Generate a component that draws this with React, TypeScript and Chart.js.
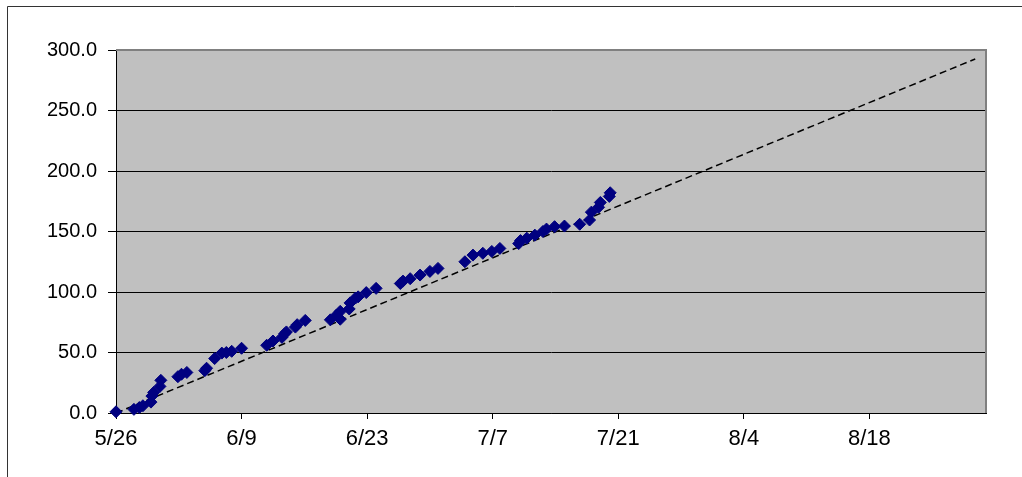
import React, { useEffect, useRef } from "react";
import { Chart, registerables } from "chart.js";

Chart.register(...registerables);

// Days since 5/26 for each observation
const obsDays: number[] = [
  0, 2.0, 2.6, 3.0, 3.9, 4.0, 4.2, 4.9, 5.0, 6.9, 7.3, 7.9, 9.9, 10.1, 11.0, 11.8,
  12.3, 12.9, 14.0, 16.8, 17.5, 18.5, 18.8, 19.0, 20.0, 20.2, 21.1, 23.9, 24.6,
  25.0, 25.0, 26.0, 26.1, 26.7, 27.0, 27.9, 29.0, 31.7, 32.0, 32.8, 33.9, 35.0,
  35.9, 38.9, 39.8, 40.9, 41.9, 42.8, 44.9, 45.1, 45.8, 46.7, 47.6, 48.0, 48.9,
  50.0, 51.7, 52.8, 53.0, 53.8, 54.0, 55.0, 55.1,
];
// Cumulative values
const obsValues: number[] = [
  1, 3, 4.5, 6, 9, 14, 17, 22, 27, 30, 32, 33.5, 35, 37, 45, 49.5,
  50, 51, 53.5, 56, 59.5, 62.5, 65.5, 67, 71, 73, 76.5, 77, 81,
  77.5, 84, 86, 91, 95, 96, 99.5, 103, 107, 109, 111, 114, 117,
  119.5, 125, 130.5, 132, 133.5, 136, 140, 142.5, 144.5, 147, 150, 152, 154,
  154.5, 156, 159.5, 166, 170, 174, 179, 182,
];
// Linear trend line end points (day, value)
const trendDays: number[] = [0, 95.8];
const trendValues: number[] = [0, 292.6];

const xTickDays: number[] = [0, 14, 28, 42, 56, 70, 84];
const xTickLabels: string[] = ["5/26", "6/9", "6/23", "7/7", "7/21", "8/4", "8/18"];
const yTickValues: number[] = [0, 50, 100, 150, 200, 250, 300];

const W = 1022;
const H = 477;

const frame = {
  id: "frame",
  beforeDraw(chart: any) {
    const { ctx, chartArea: a } = chart;
    ctx.save();
    ctx.fillStyle = "#ffffff";
    ctx.fillRect(0, 0, chart.width, chart.height);
    ctx.fillStyle = "#C0C0C0";
    ctx.fillRect(a.left, a.top, a.right - a.left, a.bottom - a.top);
    ctx.strokeStyle = "#333333";
    ctx.lineWidth = 1;
    ctx.beginPath();
    ctx.moveTo(7.5, chart.height);
    ctx.lineTo(7.5, 6.5);
    ctx.lineTo(chart.width, 6.5);
    ctx.stroke();
    ctx.restore();
  },
  afterDatasetsDraw(chart: any) {
    const { ctx, chartArea: a } = chart;
    ctx.save();
    ctx.strokeStyle = "#808080";
    ctx.lineWidth = 2;
    ctx.beginPath();
    ctx.moveTo(a.left, a.top);
    ctx.lineTo(a.right, a.top);
    ctx.lineTo(a.right, a.bottom);
    ctx.stroke();
    ctx.restore();
  },
};

export default function App() {
  const ref = useRef<HTMLCanvasElement | null>(null);
  useEffect(() => {
    if (!ref.current) return;
    const family = "'Liberation Sans', Arial, sans-serif";
    const chart = new Chart(ref.current, {
      type: "scatter",
      data: {
        datasets: [
          {
            type: "line",
            data: trendDays.map((d, i) => ({ x: d, y: trendValues[i] })),
            borderColor: "#000000",
            borderWidth: 1.5,
            borderDash: [7, 4],
            pointRadius: 0,
            fill: false,
            order: 2,
          } as any,
          {
            type: "scatter",
            data: obsDays.map((d, i) => ({ x: d, y: obsValues[i] })),
            pointStyle: "rectRot",
            pointRadius: 6,
            backgroundColor: "#000080",
            borderColor: "#000080",
            borderWidth: 1,
            clip: false,
            order: 1,
          } as any,
        ],
      },
      options: {
        responsive: false,
        animation: false,
        devicePixelRatio: 1,
        layout: { padding: { top: 50, right: 36, left: 0, bottom: 0 } },
        plugins: { legend: { display: false }, tooltip: { enabled: false } },
        scales: {
          x: {
            type: "linear",
            min: 0,
            max: 97,
            afterBuildTicks: (s: any) => {
              s.ticks = xTickDays.map((v) => ({ value: v }));
            },
            afterFit: (s: any) => {
              s.height = 64;
            },
            ticks: {
              autoSkip: false,
              maxRotation: 0,
              font: { family, size: 22 },
              color: "#000000",
              padding: 7,
              callback: (v: any) => {
                const i = xTickDays.indexOf(Number(v));
                return i >= 0 ? xTickLabels[i] : "";
              },
            },
            grid: {
              drawOnChartArea: false,
              drawTicks: true,
              tickLength: 6,
              color: "#000000",
            },
            border: { display: true, color: "#000000", width: 1 },
          },
          y: {
            type: "linear",
            min: 0,
            max: 300,
            afterBuildTicks: (s: any) => {
              s.ticks = yTickValues.map((v) => ({ value: v }));
            },
            afterFit: (s: any) => {
              s.width = 116;
            },
            ticks: {
              font: { family, size: 20 },
              color: "#000000",
              padding: 11,
              callback: (v: any) => Number(v).toFixed(1),
            },
            grid: {
              color: "#000000",
              lineWidth: 1,
              drawTicks: true,
              tickLength: 8,
            },
            border: { display: true, color: "#000000", width: 1 },
          },
        },
      },
      plugins: [frame],
    });
    return () => chart.destroy();
  }, []);
  return (
    <canvas
      ref={ref}
      width={W}
      height={H}
      style={{ position: "fixed", left: 0, top: 0, width: W, height: H }}
    />
  );
}
